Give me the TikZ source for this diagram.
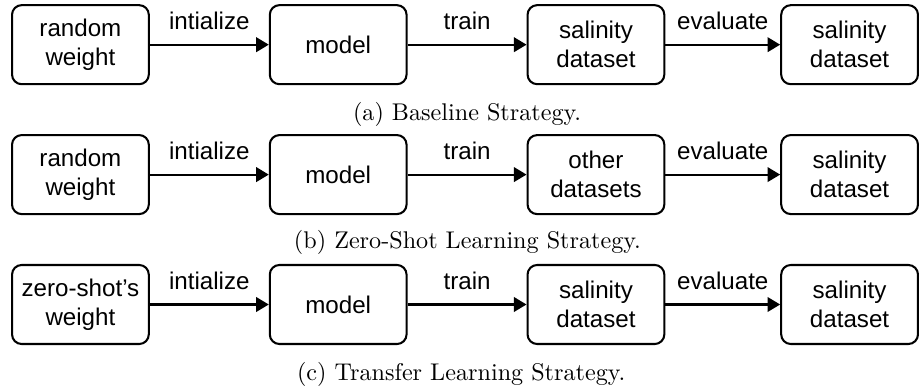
\documentclass[tikz,border=0pt]{standalone}
\usepackage{fontspec}
\newfontfamily\arialfont{Liberation Sans}
\usetikzlibrary{arrows.meta,positioning}
\definecolor{Ink}{RGB}{0,0,0}
\tikzset{
  >={Triangle[length=5.2pt,width=6pt]},
  stage/.style={draw=Ink,line width=.85pt,rounded corners=4pt,fill=white,align=center,text=Ink,font=\arialfont\fontsize{10}{12}\selectfont,minimum width=1.99cm,minimum height=1.15cm,inner sep=2pt},
  flow/.style={->,line width=.85pt,draw=Ink},
  steplabel/.style={midway,above=2.5pt,font=\arialfont\fontsize{10}{12}\selectfont,text=Ink},
  subcap/.style={anchor=base,font=\fontsize{10}{12}\selectfont,text=Ink}
}
\begin{document}
\begin{tikzpicture}[x=1cm,y=1cm]
  \useasboundingbox (0,0) rectangle (13.37,5.66);
  % (a) baseline
  \node[stage] (weightA) at (1.17,5.01) {random\\weight};
  \node[stage] (modelA) at (4.92,5.01) {model};
  \node[stage] (trainA) at (8.67,5.01) {salinity\\dataset};
  \node[stage] (evalA) at (12.36,5.01) {salinity\\dataset};
  \draw[flow] (weightA) -- node[steplabel] {intialize} (modelA);
  \draw[flow] (modelA) -- node[steplabel] {train} (trainA);
  \draw[flow] (trainA) -- node[steplabel] {evaluate} (evalA);
  \node[subcap] (capA) at (6.795,3.90) {(a) Baseline Strategy.};
  % (b) zero-shot
  \node[stage] (weightB) at (1.17,3.12) {random\\weight};
  \node[stage] (modelB) at (4.92,3.12) {model};
  \node[stage] (trainB) at (8.67,3.12) {other\\datasets};
  \node[stage] (evalB) at (12.36,3.12) {salinity\\dataset};
  \draw[flow] (weightB) -- node[steplabel] {intialize} (modelB);
  \draw[flow] (modelB) -- node[steplabel] {train} (trainB);
  \draw[flow] (trainB) -- node[steplabel] {evaluate} (evalB);
  \node[subcap] (capB) at (6.80,2.04) {(b) Zero-Shot Learning Strategy.};
  % (c) transfer
  \node[stage] (weightC) at (1.17,1.23) {zero-shot’s\\weight};
  \node[stage] (modelC) at (4.92,1.23) {model};
  \node[stage] (trainC) at (8.67,1.23) {salinity\\dataset};
  \node[stage] (evalC) at (12.36,1.23) {salinity\\dataset};
  \draw[flow] (weightC) -- node[steplabel] {intialize} (modelC);
  \draw[flow] (modelC) -- node[steplabel] {train} (trainC);
  \draw[flow] (trainC) -- node[steplabel] {evaluate} (evalC);
  \node[subcap] (capC) at (6.71,0.12) {(c) Transfer Learning Strategy.};
\end{tikzpicture}
\end{document}
